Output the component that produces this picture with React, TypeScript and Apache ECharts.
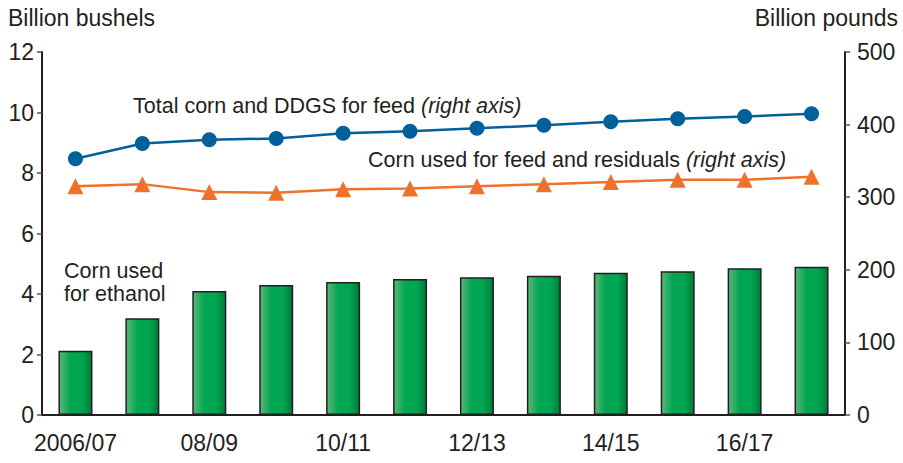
import React, { useEffect, useRef } from "react";
import * as echarts from "echarts";

const categories = ["2006/07", "07/08", "08/09", "09/10", "10/11", "11/12", "12/13", "13/14", "14/15", "15/16", "16/17", "17/18"];
const ethanolCorn = [2.12, 3.2, 4.1, 4.3, 4.4, 4.5, 4.55, 4.6, 4.7, 4.75, 4.85, 4.9];
const totalFeed = [353, 374, 379, 381, 388, 391, 395, 399, 404, 408, 411, 415];
const cornFeed = [315, 318, 307, 306, 311, 312, 315, 318, 321, 324, 324, 328];
const leftTicks = [0, 12, 2];
const rightTicks = [0, 500, 100];

const FONT = "'Liberation Sans', Arial, Helvetica, sans-serif";
const TXT = "#231f20";

export default function App() {
  const ref = useRef<HTMLDivElement>(null);
  useEffect(() => {
    if (!ref.current) return;
    const chart = echarts.init(ref.current, null, { renderer: "svg" });
    const rich = {
      n: { fontSize: 21.5, fontFamily: FONT, fill: TXT, color: TXT },
      i: { fontSize: 21.5, fontFamily: FONT, fontStyle: "italic", fill: TXT, color: TXT },
    };
    chart.setOption({
      animation: false,
      textStyle: { fontFamily: FONT },
      grid: { left: 42, right: 58, top: 52, bottom: 48, containLabel: false },
      xAxis: {
        type: "category",
        data: categories,
        boundaryGap: true,
        axisLine: { lineStyle: { color: "#231f20", width: 2 } },
        axisTick: { alignWithLabel: true, length: 7, lineStyle: { color: "#555", width: 1.5 } },
        axisLabel: { interval: 1, color: TXT, fontSize: 23, fontFamily: FONT, margin: 16 },
      },
      yAxis: [
        {
          type: "value",
          min: leftTicks[0], max: leftTicks[1], interval: leftTicks[2],
          axisLine: { show: true, lineStyle: { color: "#231f20", width: 2 } },
          axisTick: { show: true, length: 5, lineStyle: { color: "#555", width: 1.5 } },
          axisLabel: { color: TXT, fontSize: 23, fontFamily: FONT, margin: 8, verticalAlign: "middle", padding: [12, 0, 0, 0] },
          splitLine: { show: false },
        },
        {
          type: "value",
          position: "right",
          min: rightTicks[0], max: rightTicks[1], interval: rightTicks[2],
          axisLine: { show: true, lineStyle: { color: "#231f20", width: 2 } },
          axisTick: { show: true, length: 5, lineStyle: { color: "#555", width: 1.5 } },
          axisLabel: { color: TXT, fontSize: 23, fontFamily: FONT, margin: 12, verticalAlign: "middle", padding: [12, 0, 0, 0] },
          splitLine: { show: false },
        },
      ],
      series: [
        {
          type: "bar",
          yAxisIndex: 0,
          data: ethanolCorn,
          barWidth: 34,
          itemStyle: {
            borderColor: "#231f20",
            borderWidth: 1.5,
            color: new echarts.graphic.LinearGradient(0, 0, 1, 0, [
              { offset: 0, color: "#5bb878" },
              { offset: 0.35, color: "#00a651" },
              { offset: 0.7, color: "#00a651" },
              { offset: 1, color: "#007a3a" },
            ]),
          },
        },
        {
          type: "line",
          yAxisIndex: 1,
          data: totalFeed,
          symbol: "circle",
          symbolSize: 15,
          lineStyle: { color: "#00609c", width: 2.5 },
          itemStyle: { color: "#00609c" },
        },
        {
          type: "line",
          yAxisIndex: 1,
          data: cornFeed,
          symbol: "triangle",
          symbolSize: 16,
          lineStyle: { color: "#f0712a", width: 2.5 },
          itemStyle: { color: "#f0712a" },
        },
      ],
      graphic: [
        { type: "text", x: 8, y: 18, style: { text: "Billion bushels", fontSize: 23, fontFamily: FONT, fill: TXT, verticalAlign: "middle" } },
        { type: "text", x: 898, y: 18, style: { text: "Billion pounds", fontSize: 23, fontFamily: FONT, fill: TXT, align: "right", verticalAlign: "middle" } },
        {
          type: "text", x: 133, y: 106,
          style: { text: "{n|Total corn and DDGS for feed }{i|(right axis)}", rich, verticalAlign: "middle" },
        },
        {
          type: "text", x: 368, y: 160,
          style: { text: "{n|Corn used for feed and residuals }{i|(right axis)}", rich, verticalAlign: "middle" },
        },
        {
          type: "text", x: 64, y: 271,
          style: { text: "Corn used", fontSize: 21.5, fontFamily: FONT, fill: TXT, verticalAlign: "middle" },
        },
        {
          type: "text", x: 64, y: 294,
          style: { text: "for ethanol", fontSize: 21.5, fontFamily: FONT, fill: TXT, verticalAlign: "middle" },
        },
      ],
    });
    return () => chart.dispose();
  }, []);
  return <div ref={ref} style={{ width: 903, height: 463, position: "absolute", left: 0, top: 0 }} />;
}
